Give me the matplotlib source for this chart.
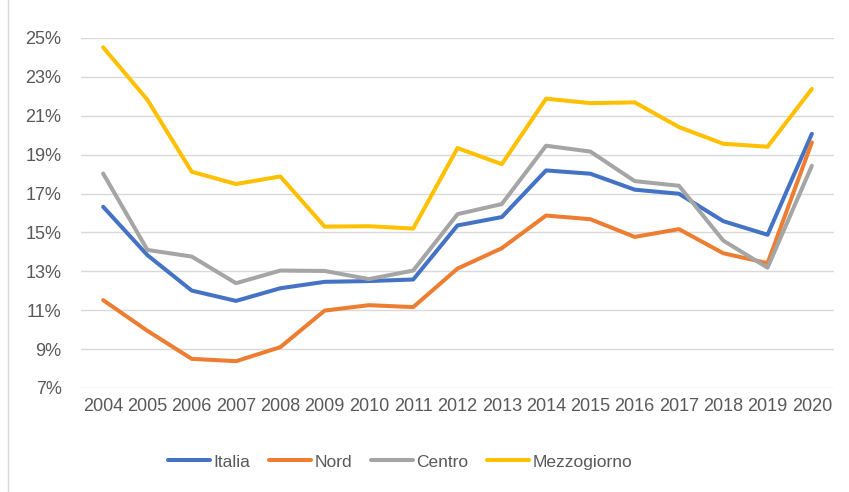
import matplotlib.pyplot as plt
from matplotlib.patches import Rectangle

years = [str(y) for y in range(2004, 2021)]
italia = [16.32, 13.83, 12.01, 11.48, 12.13, 12.46, 12.50, 12.58, 15.36, 15.79,
          18.19, 18.02, 17.20, 16.99, 15.58, 14.88, 20.07]
nord = [11.52, 9.94, 8.50, 8.38, 9.10, 10.98, 11.26, 11.16, 13.14, 14.19,
        15.87, 15.68, 14.77, 15.17, 13.93, 13.42, 19.63]
centro = [18.03, 14.10, 13.76, 12.39, 13.04, 13.02, 12.60, 13.04, 15.94, 16.46,
          19.46, 19.16, 17.64, 17.40, 14.58, 13.19, 18.43]
mezzogiorno = [24.52, 21.82, 18.12, 17.49, 17.88, 15.30, 15.32, 15.20, 19.34, 18.51,
               21.88, 21.65, 21.69, 20.42, 19.56, 19.41, 22.38]

series = [("Italia", italia, "#4472C4"),
          ("Nord", nord, "#ED7D31"),
          ("Centro", centro, "#A5A5A5"),
          ("Mezzogiorno", mezzogiorno, "#FFC000")]

plt.rcParams["font.family"] = ["Liberation Sans", "DejaVu Sans"]

fig = plt.figure(figsize=(8.49, 4.92), dpi=100)
ax = fig.add_axes([81 / 849, 1 - 388 / 492, (834 - 81) / 849, (388 - 38) / 492])

x = list(range(len(years)))
for name, vals, col in series:
    ax.plot(x, vals, color=col, lw=2.9, label=name, solid_capstyle="round",
            solid_joinstyle="round")

ax.set_xlim(-0.5, len(years) - 0.5)
ax.set_ylim(7, 25)
ax.set_yticks(range(7, 26, 2))
ax.set_yticklabels([f"{v}%" for v in range(7, 26, 2)])
ax.set_xticks(x)
ax.set_xticklabels(years)
ax.grid(axis="y", color="#D9D9D9", lw=1)
ax.set_axisbelow(True)
for s in ax.spines.values():
    s.set_visible(False)
ax.tick_params(axis="both", length=0, colors="#595959", labelsize=13)
ax.tick_params(axis="x", pad=7)
ax.tick_params(axis="y", pad=14)

fig.legend(loc="center", bbox_to_anchor=(400 / 849, 1 - 462 / 492), ncol=4,
           frameon=False, fontsize=12.5, handlelength=2.4, handletextpad=0.2,
           columnspacing=1.1, labelcolor="#595959")

fig.patches.append(Rectangle((8 / 849, -0.01), 1, 1.02, transform=fig.transFigure,
                             fill=False, edgecolor="#D9D9D9", lw=1))

fig.savefig("out.png", dpi=100)
